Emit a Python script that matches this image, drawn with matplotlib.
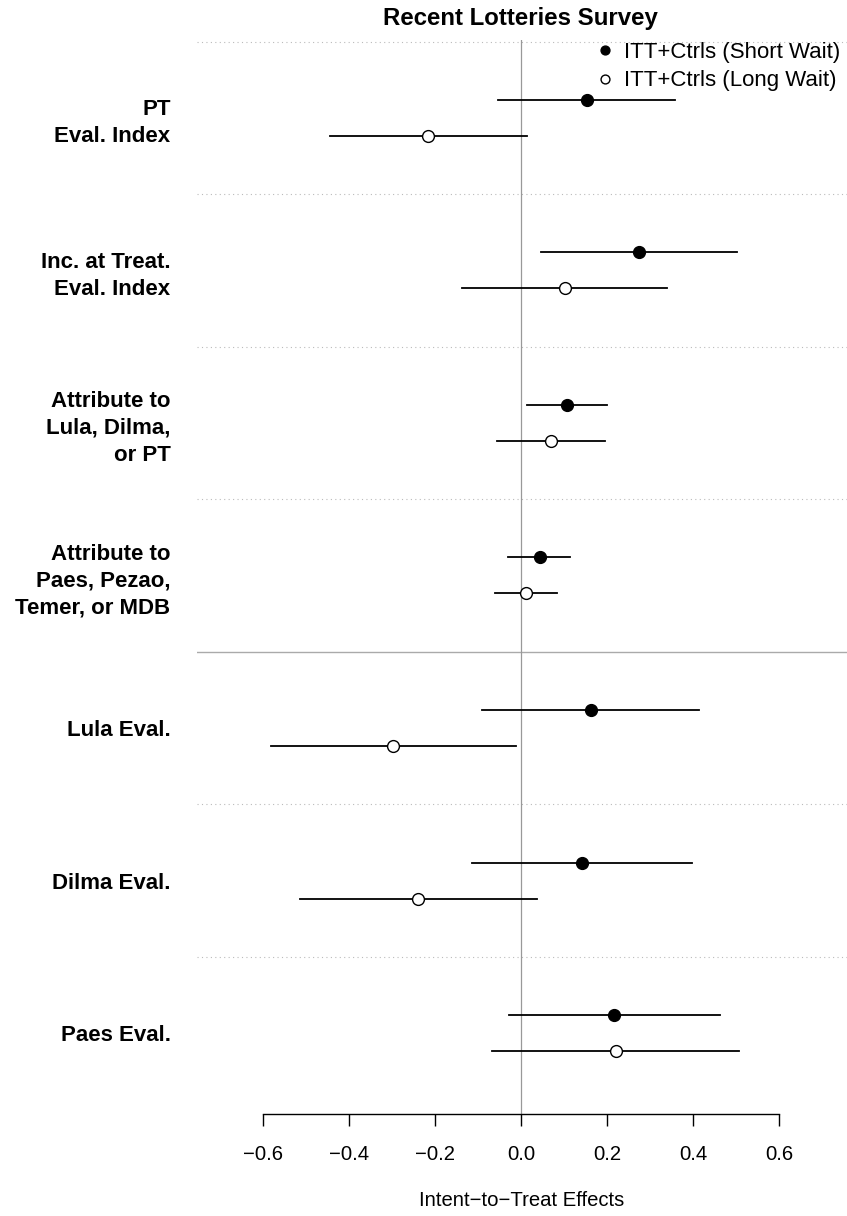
import matplotlib
matplotlib.use("Agg")
import matplotlib.pyplot as plt

plt.rcParams["font.family"] = ["Liberation Sans", "DejaVu Sans"]

# outcome labels, top to bottom
outcomes = [
    "PT\nEval. Index",
    "Inc. at Treat.\nEval. Index",
    "Attribute to\nLula, Dilma,\nor PT",
    "Attribute to\nPaes, Pezao,\nTemer, or MDB",
    "Lula Eval.",
    "Dilma Eval.",
    "Paes Eval.",
]

# ITT+Ctrls, short wait
short_est = [0.154, 0.274, 0.106, 0.043, 0.162, 0.141, 0.217]
short_lo = [-0.053, 0.046, 0.013, -0.030, -0.091, -0.115, -0.028]
short_hi = [0.359, 0.501, 0.199, 0.114, 0.414, 0.397, 0.463]

# ITT+Ctrls, long wait
long_est = [-0.216, 0.101, 0.069, 0.011, -0.298, -0.239, 0.220]
long_lo = [-0.445, -0.137, -0.055, -0.061, -0.582, -0.515, -0.067]
long_hi = [0.014, 0.340, 0.194, 0.083, -0.013, 0.037, 0.506]

xticks = [-0.6, -0.4, -0.2, 0.0, 0.2, 0.4, 0.6]

W, H = 847, 1216
fig = plt.figure(figsize=(W / 100, H / 100), dpi=100)
ax = fig.add_axes([197 / W, 1 - 1114 / H, 1 - 197 / W, (1114 - 40) / H])

off = 0.118
ys = list(range(len(outcomes)))

# separators
for k in [-0.5, 0.5, 1.5, 2.5, 4.5, 5.5]:
    ax.axhline(k, color="#bbbbbb", linestyle=(0, (1, 3)), linewidth=0.8, zorder=1)
ax.axhline(3.5, color="#aaaaaa", linestyle="-", linewidth=1.0, zorder=1)
ax.axvline(0, color="#999999", linewidth=0.9, zorder=1)

for i in ys:
    ax.plot([short_lo[i], short_hi[i]], [i - off, i - off], color="black", lw=1.3, zorder=2)
    ax.plot([long_lo[i], long_hi[i]], [i + off, i + off], color="black", lw=1.3, zorder=2)

ax.plot(short_est, [y - off for y in ys], "o", color="black", markersize=8.5,
        markeredgewidth=1.0, zorder=3, linestyle="none", label="ITT+Ctrls (Short Wait)")
ax.plot(long_est, [y + off for y in ys], "o", markerfacecolor="white",
        markeredgecolor="black", markersize=8.5, markeredgewidth=1.0, zorder=3,
        linestyle="none", label="ITT+Ctrls (Long Wait)")

ax.set_xlim(-0.754, 0.758)
ax.set_ylim(6.53, -0.51)

ax.set_yticks(ys)
ax.set_yticklabels(outcomes, fontsize=16, fontweight="bold", linespacing=1.36)
ax.tick_params(axis="y", length=0, pad=19)
for lab in ax.get_yticklabels():
    lab.set_horizontalalignment("right")

ax.set_xticks(xticks)
ax.set_xticklabels([f"{t:.1f}".replace("-", "\u2212") for t in xticks], fontsize=14.6)
ax.tick_params(axis="x", length=8.6, width=1, direction="out", pad=14)
ax.spines["bottom"].set_bounds(-0.6, 0.6)
ax.spines["bottom"].set_linewidth(1)
for s in ["top", "right", "left"]:
    ax.spines[s].set_visible(False)

ax.set_xlabel("Intent\u2212to\u2212Treat Effects", fontsize=14.6, labelpad=19)

fig.text(520 / W, 1 - 18 / H, "Recent Lotteries Survey", ha="center", va="center",
         fontsize=17.3, fontweight="bold")

leg = ax.legend(loc="upper right", bbox_to_anchor=(0.993, 1.0), frameon=False,
                fontsize=16, markerscale=0.75, handlelength=0.8, handletextpad=0.45,
                labelspacing=0.32, borderaxespad=0.0, borderpad=0.1)

fig.savefig("out.png", dpi=100)
